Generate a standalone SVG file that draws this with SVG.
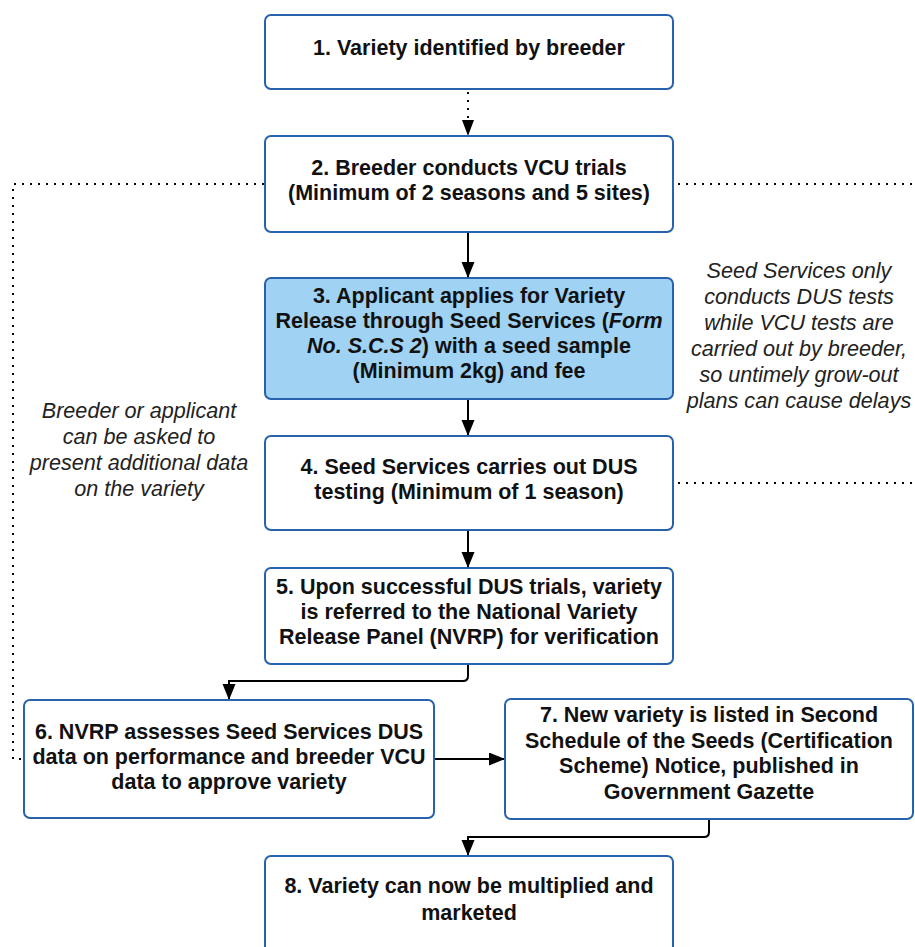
<svg xmlns="http://www.w3.org/2000/svg" width="915" height="947" viewBox="0 0 915 947">
<style>
.box{fill:#ffffff;stroke:#2862ad;stroke-width:2}
.blue{fill:#9fd2f3}
.t{font-family:"Liberation Sans",Arial,sans-serif;font-size:21.5px;font-weight:bold;fill:#111;text-anchor:middle}
.n{font-family:"Liberation Sans",Arial,sans-serif;font-size:21.6px;font-style:italic;fill:#222;text-anchor:middle}
.c{fill:none;stroke:#000;stroke-width:2}
.d{fill:none;stroke:#000;stroke-width:2;stroke-dasharray:2 6}
</style>
<defs>
<marker id="ah" markerUnits="userSpaceOnUse" markerWidth="17" markerHeight="14" refX="16" refY="6.5" orient="auto">
<path d="M0,0 L16,6.5 L0,13 z" fill="#000"/>
</marker>
</defs>
<rect width="915" height="947" fill="#ffffff"/>
<g id="connectors">
<path class="d" d="M468,92 V120" />
<path d="M462,120 L474,120 L468,136 z" fill="#000"/>
<path class="c" d="M468,232 V278" marker-end="url(#ah)"/>
<path class="c" d="M468,399 V436" marker-end="url(#ah)"/>
<path class="c" d="M468,530 V568" marker-end="url(#ah)"/>
<path class="c" d="M468,664 V676 Q468,681 463,681 H229 V700" marker-end="url(#ah)"/>
<path class="c" d="M434,759 H505" marker-end="url(#ah)"/>
<path class="c" d="M709,819 V832 Q709,837 704,837 H468 V856" marker-end="url(#ah)"/>
<path class="d" d="M264,184 H13 V759 H24"/>
<path class="d" d="M678,184 H915"/>
<path class="d" d="M678,483 H915"/>
</g>
<g id="node1">
<rect class="box" x="265" y="15" width="408" height="74" rx="6"/>
<text class="t" x="469" y="55">1. Variety identified by breeder</text>
</g>
<g id="node2">
<rect class="box" x="265" y="136" width="408" height="96" rx="6"/>
<text class="t" x="469" y="175">2. Breeder conducts VCU trials</text>
<text class="t" x="469" y="200">(Minimum of 2 seasons and 5 sites)</text>
</g>
<g id="node3">
<rect class="box blue" x="265" y="278" width="408" height="121" rx="6"/>
<text class="t" x="469" y="303">3. Applicant applies for Variety</text>
<text class="t" x="469" y="328">Release through Seed Services (<tspan font-style="italic">Form</tspan></text>
<text class="t" x="469" y="353"><tspan font-style="italic">No. S.C.S 2</tspan>) with a seed sample</text>
<text class="t" x="469" y="378">(Minimum 2kg) and fee</text>
</g>
<g id="node4">
<rect class="box" x="265" y="436" width="408" height="94" rx="6"/>
<text class="t" x="469" y="474">4. Seed Services carries out DUS</text>
<text class="t" x="469" y="499">testing (Minimum of 1 season)</text>
</g>
<g id="node5">
<rect class="box" x="265" y="568" width="408" height="96" rx="6"/>
<text class="t" x="469" y="594">5. Upon successful DUS trials, variety</text>
<text class="t" x="469" y="619">is referred to the National Variety</text>
<text class="t" x="469" y="644">Release Panel (NVRP) for verification</text>
</g>
<g id="node6">
<rect class="box" x="24" y="700" width="410" height="118" rx="6"/>
<text class="t" x="229" y="739">6. NVRP assesses Seed Services DUS</text>
<text class="t" x="229" y="764">data on performance and breeder VCU</text>
<text class="t" x="229" y="789">data to approve variety</text>
</g>
<g id="node7">
<rect class="box" x="505" y="699" width="408" height="120" rx="6"/>
<text class="t" x="709" y="722">7. New variety is listed in Second</text>
<text class="t" x="709" y="748">Schedule of the Seeds (Certification</text>
<text class="t" x="709" y="773">Scheme) Notice, published in</text>
<text class="t" x="709" y="799">Government Gazette</text>
</g>
<g id="node8">
<rect class="box" x="265" y="856" width="408" height="110" rx="6"/>
<text class="t" x="469" y="893">8. Variety can now be multiplied and</text>
<text class="t" x="469" y="920">marketed</text>
</g>
<g id="note-left">
<text class="n" x="139" y="418">Breeder or applicant</text>
<text class="n" x="139" y="444">can be asked to</text>
<text class="n" x="139" y="470">present additional data</text>
<text class="n" x="139" y="496">on the variety</text>
</g>
<g id="note-right">
<text class="n" x="799" y="278">Seed Services only</text>
<text class="n" x="799" y="304">conducts DUS tests</text>
<text class="n" x="799" y="330">while VCU tests are</text>
<text class="n" x="799" y="356">carried out by breeder,</text>
<text class="n" x="799" y="382">so untimely grow-out</text>
<text class="n" x="799" y="408">plans can cause delays</text>
</g>
</svg>
